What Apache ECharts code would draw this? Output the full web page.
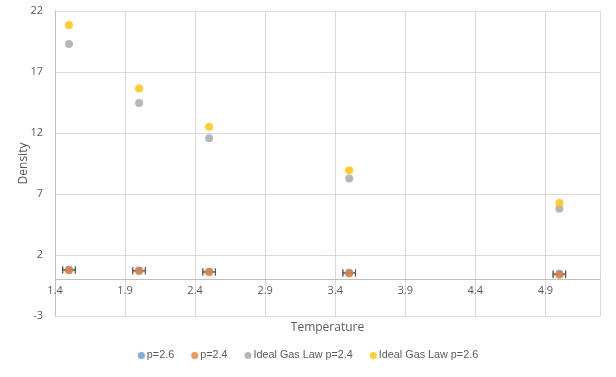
<!DOCTYPE html>
<html>
<head>
<meta charset="utf-8">
<script src="https://cdn.jsdelivr.net/npm/echarts@6/dist/echarts.min.js"></script>
<style>
  html, body { margin: 0; padding: 0; background: #fff; }
  #chart { width: 616px; height: 377px; }
</style>
</head>
<body>
<div id="chart"></div>
<script>
// temperatures (x)
const temps = [1.5, 2.0, 2.5, 3.5, 5.0];
// measured densities
const p26 = [0.8, 0.72, 0.62, 0.54, 0.46];
const p24 = [0.75, 0.69, 0.6, 0.51, 0.38];
// ideal gas law curves
const ideal24 = [19.3, 14.45, 11.57, 8.28, 5.8];
const ideal26 = [20.85, 15.65, 12.52, 8.95, 6.26];
// horizontal error (temperature)
const tempErr = [0.045, 0.045, 0.045, 0.045, 0.045];

const font = 'Open Sans, sans-serif';
const textColor = '#595959';

const pts = ys => temps.map((t, i) => [t, ys[i]]);
const errPts = ys => temps.map((t, i) => [t, ys[i], tempErr[i]]);

function errorBar(params, api) {
  const x = api.value(0);
  const y = api.value(1);
  const e = api.value(2);
  const a = api.coord([x - e, y]);
  const b = api.coord([x + e, y]);
  const h = 3.5;
  const style = { stroke: '#595959', lineWidth: 1 };
  return {
    type: 'group',
    children: [
      { type: 'line', shape: { x1: a[0], y1: a[1], x2: b[0], y2: b[1] }, style },
      { type: 'line', shape: { x1: a[0], y1: a[1] - h, x2: a[0], y2: a[1] + h }, style },
      { type: 'line', shape: { x1: b[0], y1: b[1] - h, x2: b[0], y2: b[1] + h }, style },
    ],
  };
}

const chart = echarts.init(document.getElementById('chart'));
chart.setOption({
  animation: false,
  color: ['#5b9bd5', '#ed7d31', '#a5a5a5', '#ffc000'],
  grid: { left: 55, right: 16, top: 11, bottom: 61 },
  legend: {
    bottom: 11,
    left: 'center',
    icon: 'circle',
    itemWidth: 7,
    itemHeight: 7,
    itemGap: 17,
    textStyle: {
      fontFamily: 'Liberation Sans, sans-serif', fontSize: 10.8, color: textColor,
      padding: [0, 0, 0, -3],
    },
    data: ['p=2.6', 'p=2.4', 'Ideal Gas Law p=2.4', 'Ideal Gas Law p=2.6'],
  },
  xAxis: {
    type: 'value',
    min: 1.4,
    max: 5.29,
    interval: 0.5,
    name: 'Temperature',
    nameLocation: 'middle',
    nameGap: 6,
    nameTextStyle: { fontFamily: font, fontSize: 12, color: textColor },
    axisLine: { show: true, onZero: true, lineStyle: { color: '#bfbfbf' } },
    axisTick: { show: false },
    axisLabel: {
      showMaxLabel: false,
      margin: -31,
      fontFamily: font, fontSize: 11, color: textColor,
      formatter: v => v.toFixed(1),
    },
    splitLine: { show: true, lineStyle: { color: '#d9d9d9' } },
  },
  yAxis: {
    type: 'value',
    min: -3,
    max: 22,
    interval: 5,
    name: 'Density',
    nameLocation: 'middle',
    nameGap: 25,
    nameMoveOverlap: false,
    nameTextStyle: { fontFamily: font, fontSize: 12, color: textColor },
    axisLine: { show: true, lineStyle: { color: '#bfbfbf' } },
    axisTick: { show: false },
    axisLabel: { fontFamily: font, fontSize: 11, color: textColor, margin: 12 },
    splitLine: { show: true, lineStyle: { color: '#d9d9d9' } },
  },
  series: [
    {
      name: 'p=2.6', type: 'scatter', data: pts(p26),
      symbolSize: 8, z: 3,
    },
    {
      name: 'p=2.4', type: 'scatter', data: pts(p24),
      symbolSize: 8, z: 4,
    },
    {
      name: 'Ideal Gas Law p=2.4', type: 'scatter', data: pts(ideal24),
      symbolSize: 8, z: 3,
    },
    {
      name: 'Ideal Gas Law p=2.6', type: 'scatter', data: pts(ideal26),
      symbolSize: 8, z: 3,
    },
    {
      name: 'err26', type: 'custom', renderItem: errorBar, data: errPts(p26),
      z: 2, silent: true,
    },
    {
      name: 'err24', type: 'custom', renderItem: errorBar, data: errPts(p24),
      z: 2, silent: true,
    },
  ],
});
</script>
</body>
</html>
